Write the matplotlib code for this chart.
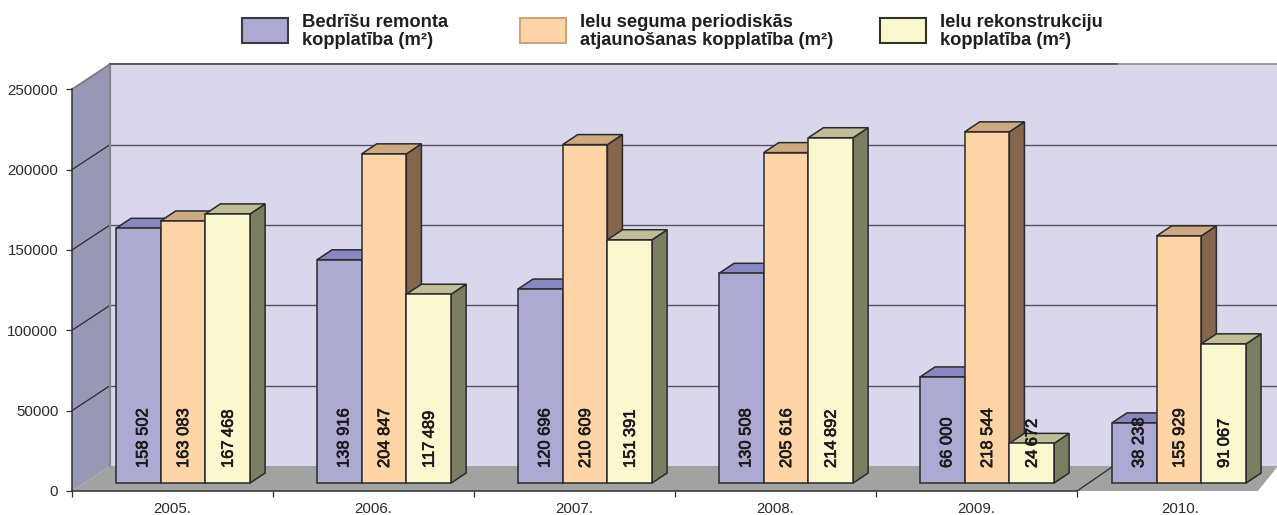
import matplotlib
matplotlib.use("Agg")
import matplotlib.pyplot as plt
from matplotlib.patches import Polygon, Rectangle
import matplotlib.patheffects as pe

plt.rcParams["font.family"] = ["Liberation Sans", "DejaVu Sans"]

# ---- data ----
years = ["2005.", "2006.", "2007.", "2008.", "2009.", "2010."]
# values printed on the bars
bedrisu = [158502, 138916, 120696, 130508, 66000, 38238]
seguma = [163083, 204847, 210609, 205616, 218544, 155929]
rekonstr = [167468, 117489, 151391, 214892, 24672, 91067]
# heights as drawn (the 2010 bars are drawn a little lower than their labels)
bedrisu_h = [158502, 138916, 120696, 130508, 66000, 37400]
seguma_h = [163083, 204847, 210609, 205616, 218544, 153800]
rekonstr_h = [167468, 117489, 151391, 214892, 24672, 86600]
series_names = ["Bedrīšu remonta\nkopplatība (m²)",
                "Ielu seguma periodiskās\natjaunošanas kopplatība (m²)",
                "Ielu rekonstrukciju\nkopplatība (m²)"]
y_ticks = [0, 50000, 100000, 150000, 200000, 250000]

# ---- layout ----
W, H = 1277, 515
fig = plt.figure(figsize=(W / 100, H / 100), dpi=100, facecolor="white")
AX_L, AX_B, PX_CAT, PX_VAL = 72, 491, 201.0, 401.7
ax = fig.add_axes([AX_L / W, (H - AX_B) / H, 6 * PX_CAT / W, PX_VAL / H])
ax.set_xlim(0, 6)
ax.set_ylim(0, 250000)
ax.patch.set_visible(False)

px = 1 / PX_CAT           # one pixel in category units
py = 250000 / PX_VAL      # one pixel in value units
DX, DY = 38 * px, 25 * py  # wall depth
BX, BY = 15 * px, 10 * py  # bar depth
BASE = 8 * py             # bar foot above front plane
BAR_W = 44.7 * px
starts = [0.219, 1.219, 2.219, 3.219, 4.219, 5.174]
label_x = [0.5, 1.5, 2.5, 3.5, 4.5, 5.512]
DARK = "#2c2a2c"


def poly(pts, **kw):
    kw.setdefault("clip_on", False)
    ax.add_patch(Polygon(pts, closed=True, **kw))


# walls and floor
xr = 6.0
top = 250000
poly([(DX, DY), (xr, DY), (xr, top + DY), (DX, top + DY)], fc="#d9d7eb", ec="none", zorder=1)
poly([(0, 0), (DX, DY), (DX, top + DY), (0, top)], fc="#9798b3", ec="none", zorder=1)
poly([(0, 0), (DX, DY), (xr, DY), (5.9, 0)], fc="#a1a3a1", ec="none", zorder=1.1)

# gridlines on back and side wall
for v in y_ticks[1:-1]:
    ax.plot([DX, xr], [v + DY, v + DY], color="#55535f", lw=1.0, clip_on=False, zorder=1.5)
for v in y_ticks[1:-1]:
    ax.plot([0, DX], [v, v + DY], color=DARK, lw=0.9, clip_on=False, zorder=1.5)
ax.plot([0, DX], [top, top + DY], color="#7d7d85", lw=1.4, clip_on=False, zorder=1.5)
ax.plot([DX, DX], [DY, top + DY], color="#85858d", lw=1.6, clip_on=False, zorder=1.6)
ax.plot([DX, xr], [top + DY, top + DY], color="#9a9a9e", lw=1.4, clip_on=False, zorder=1.5)
ax.plot([DX, 5.2], [top + DY, top + DY], color="#5c5c62", lw=1.4, clip_on=False, zorder=1.6)
ax.plot([5, 5 + 35 * px], [0, 24 * py], color=DARK, lw=0.9, clip_on=False, zorder=1.6)

# bars
styles = [("#aca9d2", "#8987c0", "#6f6d8f"),
          ("#ffd4a6", "#cda981", "#84674b"),
          ("#fbf8cf", "#bebd98", "#7c7e63")]
label_series = [bedrisu, seguma, rekonstr]
height_series = [bedrisu_h, seguma_h, rekonstr_h]
text_dx = [4.5 * px, 0.5 * px, 0.5 * px]
z = 3.0
for c in range(len(years)):
    for s, vals in enumerate(height_series):
        v = vals[c]
        x0 = starts[c] + s * BAR_W
        x1 = x0 + BAR_W
        yb, yt = BASE, BASE + v
        front, topc, side = styles[s]
        ek = dict(ec=DARK, lw=1.1, joinstyle="miter", zorder=z)
        poly([(x1, yb), (x1 + BX, yb + BY), (x1 + BX, yt + BY), (x1, yt)], fc=side, **ek)
        poly([(x0, yt), (x1, yt), (x1 + BX, yt + BY), (x0 + BX, yt + BY)], fc=topc, **ek)
        poly([(x0, yb), (x1, yb), (x1, yt), (x0, yt)], fc=front, **ek)
        z += 0.01
        sep = "\u2009" if s == 2 else " "
        txt = f"{label_series[s][c]:,}".replace(",", sep)
        t = ax.text((x0 + x1) / 2 + text_dx[s], yb + 15 * py, txt, rotation=90,
                    ha="center", va="bottom", fontsize=11.9, color="#1d1b1c", zorder=10)
        t.set_path_effects([pe.withStroke(linewidth=0.5, foreground="#1d1b1c")])

# axes
for sp in ("top", "right"):
    ax.spines[sp].set_visible(False)
for sp in ("left", "bottom"):
    ax.spines[sp].set_color("#333133")
    ax.spines[sp].set_linewidth(1.1)
    ax.spines[sp].set_zorder(2)
ax.spines["bottom"].set_bounds(0, 5)
ax.set_yticks(y_ticks)
ax.set_yticklabels([str(v) for v in y_ticks])
ax.set_xticks(range(6))
ax.set_xticklabels([])
ax.set_xticks(label_x, years, minor=True)
ax.tick_params(axis="y", length=4.4, width=0.9, color="#333133", labelsize=10.8,
               labelcolor="#2b2b2b", pad=5.5)
ax.tick_params(axis="x", which="major", length=4.6, width=0.9, color="#333133")
ax.tick_params(axis="x", which="minor", length=0, labelsize=10.8, labelcolor="#2b2b2b", pad=8)

# legend
leg_boxes = [(242, "#aca9d2", "#3a3a44", 302), (520, "#ffd4a6", "#c9a583", 580), (880, "#fbf8cf", "#33332c", 940)]
for (bx, fc, ec, tx), name in zip(leg_boxes, series_names):
    fig.add_artist(Rectangle((bx / W, (H - 43) / H), 46 / W, 25 / H, transform=fig.transFigure,
                             fc=fc, ec=ec, lw=1.5))
    fig.text(tx / W, (H - 31.5) / H, name, ha="left", va="center", fontsize=13.2,
             fontweight="bold", color="#231f20", linespacing=1.08)

fig.savefig("out.png", dpi=100)
